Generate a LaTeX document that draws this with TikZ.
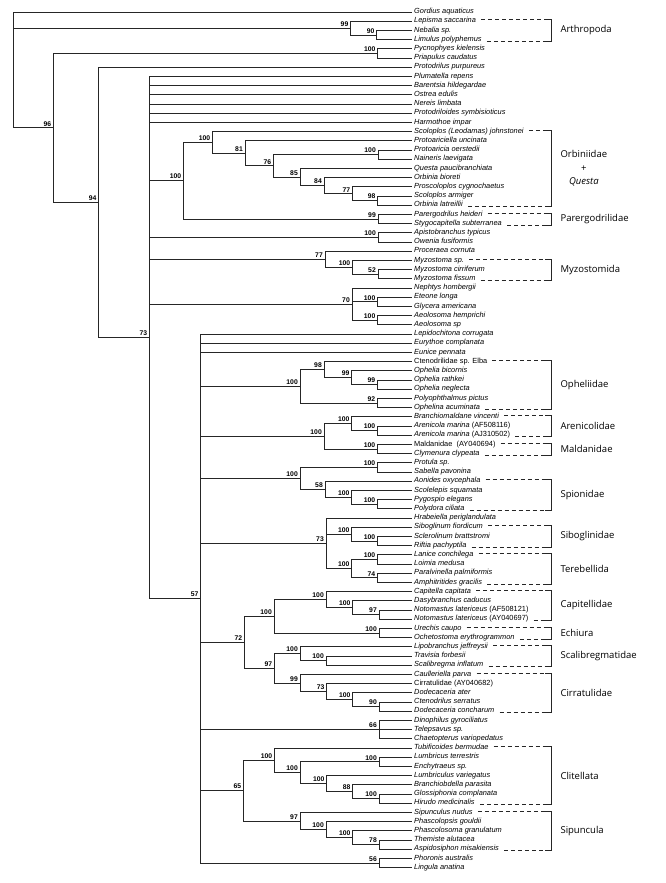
\documentclass[tikz,border=0pt]{standalone}
\usepackage{fontspec}
\setmainfont{Liberation Sans}
\newfontfamily\cladefont{Open Sans}
\begin{document}
\begin{tikzpicture}[x=1pt, y=-9.2pt,
    leaf/.style={anchor=west, inner sep=2pt, text height=5pt, text depth=1.5pt,
      font=\fontsize{7.4}{8}\selectfont\itshape},
    boot/.style={anchor=south east, inner xsep=2pt, inner ysep=1.5pt,
      font=\fontsize{6.8}{7}\selectfont\bfseries},
    branch/.style={line width=0.75pt, black!85},
    dashline/.style={line width=0.75pt, black!85, dash pattern=on 4pt off 3pt},
    brtop/.style={yshift=1.5pt},
    brbot/.style={yshift=-1.5pt},
    clade/.style={anchor=west, align=center, font=\cladefont\fontsize{9.5}{13.5}\selectfont}]
  \useasboundingbox (0,-0.3043) rectangle (665,95.674);
  % taxa
  \path
    (412,1) node[leaf] (gor) {Gordius aquaticus}
    (412,2) node[leaf] (lep) {Lepisma saccarina}
    (412,3) node[leaf] (neb) {Nebalia sp.}
    (412,4) node[leaf] (lim) {Limulus polyphemus}
    (412,5) node[leaf] (pyc) {Pycnophyes kielensis}
    (412,6) node[leaf] (pri) {Priapulus caudatus}
    (412,7) node[leaf] (prp) {Protodrilus purpureus}
    (412,8) node[leaf] (plu) {Plumatella repens}
    (412,9) node[leaf] (bar) {Barentsia hildegardae}
    (412,10) node[leaf] (ost) {Ostrea edulis}
    (412,11) node[leaf] (ner) {Nereis limbata}
    (412,12) node[leaf] (pds) {Protodriloides symbisioticus}
    (412,13) node[leaf] (har) {Harmothoe impar}
    (412,14) node[leaf] (slj) {Scoloplos (Leodamas) johnstonei}
    (412,15) node[leaf] (pau) {Protoariciella uncinata}
    (412,16) node[leaf] (pao) {Protoaricia oerstedii}
    (412,17) node[leaf] (nai) {Naineris laevigata}
    (412,18) node[leaf] (que) {Questa paucibranchiata}
    (412,19) node[leaf] (obi) {Orbinia bioreti}
    (412,20) node[leaf] (pcy) {Proscoloplos cygnochaetus}
    (412,21) node[leaf] (sar) {Scoloplos armiger}
    (412,22) node[leaf] (ola) {Orbinia latreillii}
    (412,23) node[leaf] (phe) {Parergodrilus heideri}
    (412,24) node[leaf] (sty) {Stygocapitella subterranea}
    (412,25) node[leaf] (apt) {Apistobranchus typicus}
    (412,26) node[leaf] (owf) {Owenia fusiformis}
    (412,27) node[leaf] (pco) {Proceraea cornuta}
    (412,28) node[leaf] (mys) {Myzostoma sp.}
    (412,29) node[leaf] (myc) {Myzostoma cirriferum}
    (412,30) node[leaf] (myf) {Myzostoma fissum}
    (412,31) node[leaf] (nep) {Nephtys hombergii}
    (412,32) node[leaf] (ete) {Eteone longa}
    (412,33) node[leaf] (gly) {Glycera americana}
    (412,34) node[leaf] (aeh) {Aeolosoma hemprichi}
    (412,35) node[leaf] (aes) {Aeolosoma sp}
    (412,36) node[leaf] (lec) {Lepidochitona corrugata}
    (412,37) node[leaf] (euc) {Eurythoe complanata}
    (412,38) node[leaf] (eup) {Eunice pennata}
    (412,39) node[leaf] (cte) {\textup{Ctenodrilidae sp. Elba}}
    (412,40) node[leaf] (obc) {Ophelia bicornis}
    (412,41) node[leaf] (ora) {Ophelia rathkei}
    (412,42) node[leaf] (one) {Ophelia neglecta}
    (412,43) node[leaf] (pol) {Polyophthalmus pictus}
    (412,44) node[leaf] (oac) {Ophelina acuminata}
    (412,45) node[leaf] (brv) {Branchiomaldane vincenti}
    (412,46) node[leaf] (ama) {Arenicola marina \textup{(AF508116)}}
    (412,47) node[leaf] (amb) {Arenicola marina \textup{(AJ310502)}}
    (412,48) node[leaf] (mal) {\textup{Maldanidae\ \ (AY040694)}}
    (412,49) node[leaf] (cly) {Clymenura clypeata}
    (412,50) node[leaf] (prt) {Protula sp.}
    (412,51) node[leaf] (sab) {Sabella pavonina}
    (412,52) node[leaf] (aon) {Aonides oxycephala}
    (412,53) node[leaf] (scs) {Scolelepis squamata}
    (412,54) node[leaf] (pyg) {Pygospio elegans}
    (412,55) node[leaf] (pci) {Polydora ciliata}
    (412,56) node[leaf] (hra) {Hrabeiella periglandulata}
    (412,57) node[leaf] (sfi) {Siboglinum fiordicum}
    (412,58) node[leaf] (sbr) {Sclerolinum brattstromi}
    (412,59) node[leaf] (rif) {Riftia pachyptila}
    (412,60) node[leaf] (lan) {Lanice conchilega}
    (412,61) node[leaf] (loi) {Loimia medusa}
    (412,62) node[leaf] (pal) {Paralvinella palmiformis}
    (412,63) node[leaf] (amg) {Amphitritides gracilis}
    (412,64) node[leaf] (cap) {Capitella capitata}
    (412,65) node[leaf] (das) {Dasybranchus caducus}
    (412,66) node[leaf] (nla) {Notomastus latericeus \textup{(AF508121)}}
    (412,67) node[leaf] (nlb) {Notomastus latericeus \textup{(AY040697)}}
    (412,68) node[leaf] (ure) {Urechis caupo}
    (412,69) node[leaf] (och) {Ochetostoma erythrogrammon}
    (412,70) node[leaf] (lip) {Lipobranchus jeffreysii}
    (412,71) node[leaf] (tra) {Travisia forbesii}
    (412,72) node[leaf] (sci) {Scalibregma inflatum}
    (412,73) node[leaf] (cau) {Caulleriella parva}
    (412,74) node[leaf] (cir) {\textup{Cirratulidae (AY040682)}}
    (412,75) node[leaf] (dat) {Dodecaceria ater}
    (412,76) node[leaf] (cts) {Ctenodrilus serratus}
    (412,77) node[leaf] (dco) {Dodecaceria concharum}
    (412,78) node[leaf] (din) {Dinophilus gyrociliatus}
    (412,79) node[leaf] (tel) {Telepsavus sp.}
    (412,80) node[leaf] (cha) {Chaetopterus variopedatus}
    (412,81) node[leaf] (tub) {Tubificoides bermudae}
    (412,82) node[leaf] (lut) {Lumbricus terrestris}
    (412,83) node[leaf] (enc) {Enchytraeus sp.}
    (412,84) node[leaf] (luv) {Lumbriculus variegatus}
    (412,85) node[leaf] (brp) {Branchiobdella parasita}
    (412,86) node[leaf] (glo) {Glossiphonia complanata}
    (412,87) node[leaf] (hir) {Hirudo medicinalis}
    (412,88) node[leaf] (sip) {Sipunculus nudus}
    (412,89) node[leaf] (phg) {Phascolopsis gouldii}
    (412,90) node[leaf] (phs) {Phascolosoma granulatum}
    (412,91) node[leaf] (the) {Themiste alutacea}
    (412,92) node[leaf] (asp) {Aspidosiphon misakiensis}
    (412,93) node[leaf] (pho) {Phoronis australis}
    (412,94) node[leaf] (lin) {Lingula anatina};
  % inner nodes with support values
  \path
    (13.3,7.296875) coordinate (root)
    (350.5,2.75) coordinate (arth) node[boot] (arth-b) {99}
    (376.7,3.5) coordinate (arthb) node[boot] (arthb-b) {90}
    (53.3,13.59375) coordinate (bila) node[boot] (bila-b) {96}
    (377.7,5.5) coordinate (pria) node[boot] (pria-b) {100}
    (98.7,21.6875) coordinate (anne) node[boot] (anne-b) {94}
    (149.3,36.375) coordinate (core) node[boot] (core-b) {73}
    (183.3,19.33984375) coordinate (orpa) node[boot] (orpa-b) {100}
    (212.3,15.1796875) coordinate (orbi) node[boot] (orbi-b) {100}
    (245,16.359375) coordinate (orb81) node[boot] (orb81-b) {81}
    (273.3,17.71875) coordinate (orb76) node[boot] (orb76-b) {76}
    (378,16.5) coordinate (orbpn) node[boot] (orbpn-b) {100}
    (300,18.9375) coordinate (orb85) node[boot] (orb85-b) {85}
    (324,19.875) coordinate (orb84) node[boot] (orb84-b) {84}
    (352.3,20.75) coordinate (orb77) node[boot] (orb77-b) {77}
    (377.7,21.5) coordinate (orb98) node[boot] (orb98-b) {98}
    (378,23.5) coordinate (parg) node[boot] (parg-b) {99}
    (378,25.5) coordinate (apow) node[boot] (apow-b) {100}
    (325,27.875) coordinate (myzo) node[boot] (myzo-b) {77}
    (352.3,28.75) coordinate (myz100) node[boot] (myz100-b) {100}
    (378,29.5) coordinate (myz52) node[boot] (myz52-b) {52}
    (352,32.75) coordinate (glyc) node[boot] (glyc-b) {70}
    (377.5,32.5) coordinate (glyb) node[boot] (glyb-b) {100}
    (377.5,34.5) coordinate (aeol) node[boot] (aeol-b) {100}
    (200.7,64.75) coordinate (crwn) node[boot] (crwn-b) {57}
    (300,41.6875) coordinate (ophe) node[boot] (ophe-b) {100}
    (324,39.875) coordinate (oph98) node[boot] (oph98-b) {98}
    (351.7,40.75) coordinate (oph99) node[boot] (oph99-b) {99}
    (377.3,41.5) coordinate (oph99b) node[boot] (oph99b-b) {99}
    (377.3,43.5) coordinate (oph92) node[boot] (oph92-b) {92}
    (324,47.125) coordinate (aren) node[boot] (aren-b) {100}
    (351.7,45.75) coordinate (are100) node[boot] (are100-b) {100}
    (377.3,46.5) coordinate (are100b) node[boot] (are100b-b) {100}
    (377.3,48.5) coordinate (mald) node[boot] (mald-b) {100}
    (300,51.6875) coordinate (sabs) node[boot] (sabs-b) {100}
    (377.3,50.5) coordinate (sabl) node[boot] (sabl-b) {100}
    (325,52.875) coordinate (spi58) node[boot] (spi58-b) {58}
    (351.7,53.75) coordinate (spi100) node[boot] (spi100-b) {100}
    (377.3,54.5) coordinate (spi100b) node[boot] (spi100b-b) {100}
    (326,58.75) coordinate (sibt) node[boot] (sibt-b) {73}
    (351.7,57.75) coordinate (sibo) node[boot] (sibo-b) {100}
    (377.3,58.5) coordinate (sibob) node[boot] (sibob-b) {100}
    (351.7,61.5) coordinate (tere) node[boot] (tere-b) {100}
    (377.3,60.5) coordinate (tera) node[boot] (tera-b) {100}
    (377.3,62.5) coordinate (tere74) node[boot] (tere74-b) {74}
    (244.3,69.515625) coordinate (capt) node[boot] (capt-b) {72}
    (274,66.6875) coordinate (capi) node[boot] (capi-b) {100}
    (326,64.875) coordinate (cap100) node[boot] (cap100-b) {100}
    (352.7,65.75) coordinate (cap100b) node[boot] (cap100b-b) {100}
    (379,66.5) coordinate (cap97) node[boot] (cap97-b) {97}
    (379,68.5) coordinate (echi) node[boot] (echi-b) {100}
    (274.3,72.34375) coordinate (scci) node[boot] (scci-b) {97}
    (300,70.75) coordinate (scal) node[boot] (scal-b) {100}
    (326,71.5) coordinate (scalb) node[boot] (scalb-b) {100}
    (300,73.9375) coordinate (cirr) node[boot] (cirr-b) {99}
    (326.7,74.875) coordinate (cir73) node[boot] (cir73-b) {73}
    (352.7,75.75) coordinate (cir100) node[boot] (cir100-b) {100}
    (379,76.5) coordinate (cir90) node[boot] (cir90-b) {90}
    (379,79) coordinate (chae) node[boot] (chae-b) {66}
    (243.3,85.640625) coordinate (clsi) node[boot] (clsi-b) {65}
    (274.3,82.34375) coordinate (clit) node[boot] (clit-b) {100}
    (300,83.6875) coordinate (cli100) node[boot] (cli100-b) {100}
    (379,82.5) coordinate (lumb) node[boot] (lumb-b) {100}
    (326.7,84.875) coordinate (cli100b) node[boot] (cli100b-b) {100}
    (352.7,85.75) coordinate (cli88) node[boot] (cli88-b) {88}
    (379,86.5) coordinate (hiru) node[boot] (hiru-b) {100}
    (300,88.9375) coordinate (sipu) node[boot] (sipu-b) {97}
    (326,89.875) coordinate (sip100) node[boot] (sip100-b) {100}
    (352.7,90.75) coordinate (sip100b) node[boot] (sip100b-b) {100}
    (379,91.5) coordinate (sip78) node[boot] (sip78-b) {78}
    (379,93.5) coordinate (phor) node[boot] (phor-b) {56};
  % branches
  \begin{scope}[branch]
    \draw (root) |- (gor.west) (root) |- (arth) (root) |- (bila);
    \draw (arth) |- (lep.west) (arth) |- (arthb);
    \draw (arthb) |- (neb.west) (arthb) |- (lim.west);
    \draw (bila) |- (pria) (bila) |- (anne);
    \draw (pria) |- (pyc.west) (pria) |- (pri.west);
    \draw (anne) |- (prp.west) (anne) |- (core);
    \draw (core) |- (plu.west) (core) |- (bar.west) (core) |- (ost.west)
      (core) |- (ner.west) (core) |- (pds.west) (core) |- (har.west);
    \draw (core) |- (orpa) (core) |- (apow) (core) |- (myzo) (core) |- (glyc)
      (core) |- (crwn);
    \draw (orpa) |- (orbi) (orpa) |- (parg);
    \draw (orbi) |- (slj.west) (orbi) |- (orb81);
    \draw (orb81) |- (pau.west) (orb81) |- (orb76);
    \draw (orb76) |- (orbpn) (orb76) |- (orb85);
    \draw (orbpn) |- (pao.west) (orbpn) |- (nai.west);
    \draw (orb85) |- (que.west) (orb85) |- (orb84);
    \draw (orb84) |- (obi.west) (orb84) |- (orb77);
    \draw (orb77) |- (pcy.west) (orb77) |- (orb98);
    \draw (orb98) |- (sar.west) (orb98) |- (ola.west);
    \draw (parg) |- (phe.west) (parg) |- (sty.west);
    \draw (apow) |- (apt.west) (apow) |- (owf.west);
    \draw (myzo) |- (pco.west) (myzo) |- (myz100);
    \draw (myz100) |- (mys.west) (myz100) |- (myz52);
    \draw (myz52) |- (myc.west) (myz52) |- (myf.west);
    \draw (glyc) |- (nep.west) (glyc) |- (glyb) (glyc) |- (aeol);
    \draw (glyb) |- (ete.west) (glyb) |- (gly.west);
    \draw (aeol) |- (aeh.west) (aeol) |- (aes.west);
    \draw (crwn) |- (lec.west) (crwn) |- (euc.west) (crwn) |- (eup.west);
    \draw (crwn) |- (ophe) (crwn) |- (aren) (crwn) |- (sabs) (crwn) |- (sibt)
      (crwn) |- (capt) (crwn) |- (chae) (crwn) |- (clsi) (crwn) |- (phor);
    \draw (ophe) |- (oph98) (ophe) |- (oph92);
    \draw (oph98) |- (cte.west) (oph98) |- (oph99);
    \draw (oph99) |- (obc.west) (oph99) |- (oph99b);
    \draw (oph99b) |- (ora.west) (oph99b) |- (one.west);
    \draw (oph92) |- (pol.west) (oph92) |- (oac.west);
    \draw (aren) |- (are100) (aren) |- (mald);
    \draw (are100) |- (brv.west) (are100) |- (are100b);
    \draw (are100b) |- (ama.west) (are100b) |- (amb.west);
    \draw (mald) |- (mal.west) (mald) |- (cly.west);
    \draw (sabs) |- (sabl) (sabs) |- (spi58);
    \draw (sabl) |- (prt.west) (sabl) |- (sab.west);
    \draw (spi58) |- (aon.west) (spi58) |- (spi100);
    \draw (spi100) |- (scs.west) (spi100) |- (spi100b);
    \draw (spi100b) |- (pyg.west) (spi100b) |- (pci.west);
    \draw (sibt) |- (hra.west) (sibt) |- (sibo) (sibt) |- (tere);
    \draw (sibo) |- (sfi.west) (sibo) |- (sibob);
    \draw (sibob) |- (sbr.west) (sibob) |- (rif.west);
    \draw (tere) |- (tera) (tere) |- (tere74);
    \draw (tera) |- (lan.west) (tera) |- (loi.west);
    \draw (tere74) |- (pal.west) (tere74) |- (amg.west);
    \draw (capt) |- (capi) (capt) |- (scci);
    \draw (capi) |- (cap100) (capi) |- (echi);
    \draw (cap100) |- (cap.west) (cap100) |- (cap100b);
    \draw (cap100b) |- (das.west) (cap100b) |- (cap97);
    \draw (cap97) |- (nla.west) (cap97) |- (nlb.west);
    \draw (echi) |- (ure.west) (echi) |- (och.west);
    \draw (scci) |- (scal) (scci) |- (cirr);
    \draw (scal) |- (lip.west) (scal) |- (scalb);
    \draw (scalb) |- (tra.west) (scalb) |- (sci.west);
    \draw (cirr) |- (cau.west) (cirr) |- (cir73);
    \draw (cir73) |- (cir.west) (cir73) |- (cir100);
    \draw (cir100) |- (dat.west) (cir100) |- (cir90);
    \draw (cir90) |- (cts.west) (cir90) |- (dco.west);
    \draw (chae) |- (din.west) (chae) |- (tel.west) (chae) |- (cha.west);
    \draw (clsi) |- (clit) (clsi) |- (sipu);
    \draw (clit) |- (tub.west) (clit) |- (cli100);
    \draw (cli100) |- (lumb) (cli100) |- (cli100b);
    \draw (lumb) |- (lut.west) (lumb) |- (enc.west);
    \draw (cli100b) |- (luv.west) (cli100b) |- (cli88);
    \draw (cli88) |- (brp.west) (cli88) |- (hiru);
    \draw (hiru) |- (glo.west) (hiru) |- (hir.west);
    \draw (sipu) |- (sip.west) (sipu) |- (sip100);
    \draw (sip100) |- (phg.west) (sip100) |- (sip100b);
    \draw (sip100b) |- (phs.west) (sip100b) |- (sip78);
    \draw (sip78) |- (the.west) (sip78) |- (asp.west);
    \draw (phor) |- (pho.west) (phor) |- (lin.west);
  \end{scope}
  % clade brackets
  \coordinate (brs) at (545,0);
  \coordinate (brx) at (551,0);
  \draw[dashline] ([brtop,xshift=3pt]lep.east) -- ([brtop]lep.east -| brs);
  \draw[dashline] ([brbot,xshift=3pt]lim.east) -- ([brbot]lim.east -| brs);
  \draw[branch] ([brtop]lep.east -| brs) -- ([brtop]lep.east -| brx) -- ([brbot]lim.east -| brx) -- ([brbot]lim.east -| brs);
  \draw[dashline] ([brtop,xshift=3pt]slj.east) -- ([brtop]slj.east -| brs);
  \draw[dashline] ([brbot,xshift=3pt]ola.east) -- ([brbot]ola.east -| brs);
  \draw[branch] ([brtop]slj.east -| brs) -- ([brtop]slj.east -| brx) -- ([brbot]ola.east -| brx) -- ([brbot]ola.east -| brs);
  \draw[dashline] ([brtop,xshift=3pt]phe.east) -- ([brtop]phe.east -| brs);
  \draw[dashline] ([brbot,xshift=3pt]sty.east) -- ([brbot]sty.east -| brs);
  \draw[branch] ([brtop]phe.east -| brs) -- ([brtop]phe.east -| brx) -- ([brbot]sty.east -| brx) -- ([brbot]sty.east -| brs);
  \draw[dashline] ([brtop,xshift=3pt]mys.east) -- ([brtop]mys.east -| brs);
  \draw[dashline] ([brbot,xshift=3pt]myf.east) -- ([brbot]myf.east -| brs);
  \draw[branch] ([brtop]mys.east -| brs) -- ([brtop]mys.east -| brx) -- ([brbot]myf.east -| brx) -- ([brbot]myf.east -| brs);
  \draw[dashline] ([brtop,xshift=3pt]cte.east) -- ([brtop]cte.east -| brs);
  \draw[dashline] ([brbot,xshift=3pt]oac.east) -- ([brbot]oac.east -| brs);
  \draw[branch] ([brtop]cte.east -| brs) -- ([brtop]cte.east -| brx) -- ([brbot]oac.east -| brx) -- ([brbot]oac.east -| brs);
  \draw[dashline] ([brtop,xshift=3pt]brv.east) -- ([brtop]brv.east -| brs);
  \draw[dashline] ([brbot,xshift=3pt]amb.east) -- ([brbot]amb.east -| brs);
  \draw[branch] ([brtop]brv.east -| brs) -- ([brtop]brv.east -| brx) -- ([brbot]amb.east -| brx) -- ([brbot]amb.east -| brs);
  \draw[dashline] ([brtop,xshift=3pt]mal.east) -- ([brtop]mal.east -| brs);
  \draw[dashline] ([brbot,xshift=3pt]cly.east) -- ([brbot]cly.east -| brs);
  \draw[branch] ([brtop]mal.east -| brs) -- ([brtop]mal.east -| brx) -- ([brbot]cly.east -| brx) -- ([brbot]cly.east -| brs);
  \draw[dashline] ([brtop,xshift=3pt]aon.east) -- ([brtop]aon.east -| brs);
  \draw[dashline] ([brbot,xshift=3pt]pci.east) -- ([brbot]pci.east -| brs);
  \draw[branch] ([brtop]aon.east -| brs) -- ([brtop]aon.east -| brx) -- ([brbot]pci.east -| brx) -- ([brbot]pci.east -| brs);
  \draw[dashline] ([brtop,xshift=3pt]sfi.east) -- ([brtop]sfi.east -| brs);
  \draw[dashline] ([brbot,xshift=3pt]rif.east) -- ([brbot]rif.east -| brs);
  \draw[branch] ([brtop]sfi.east -| brs) -- ([brtop]sfi.east -| brx) -- ([brbot]rif.east -| brx) -- ([brbot]rif.east -| brs);
  \draw[dashline] ([brtop,xshift=3pt]lan.east) -- ([brtop]lan.east -| brs);
  \draw[dashline] ([brbot,xshift=3pt]amg.east) -- ([brbot]amg.east -| brs);
  \draw[branch] ([brtop]lan.east -| brs) -- ([brtop]lan.east -| brx) -- ([brbot]amg.east -| brx) -- ([brbot]amg.east -| brs);
  \draw[dashline] ([brtop,xshift=3pt]cap.east) -- ([brtop]cap.east -| brs);
  \draw[dashline] ([brbot,xshift=3pt]nlb.east) -- ([brbot]nlb.east -| brs);
  \draw[branch] ([brtop]cap.east -| brs) -- ([brtop]cap.east -| brx) -- ([brbot]nlb.east -| brx) -- ([brbot]nlb.east -| brs);
  \draw[dashline] ([brtop,xshift=3pt]ure.east) -- ([brtop]ure.east -| brs);
  \draw[dashline] ([brbot,xshift=3pt]och.east) -- ([brbot]och.east -| brs);
  \draw[branch] ([brtop]ure.east -| brs) -- ([brtop]ure.east -| brx) -- ([brbot]och.east -| brx) -- ([brbot]och.east -| brs);
  \draw[dashline] ([brtop,xshift=3pt]lip.east) -- ([brtop]lip.east -| brs);
  \draw[dashline] ([brbot,xshift=3pt]sci.east) -- ([brbot]sci.east -| brs);
  \draw[branch] ([brtop]lip.east -| brs) -- ([brtop]lip.east -| brx) -- ([brbot]sci.east -| brx) -- ([brbot]sci.east -| brs);
  \draw[dashline] ([brtop,xshift=3pt]cau.east) -- ([brtop]cau.east -| brs);
  \draw[dashline] ([brbot,xshift=3pt]dco.east) -- ([brbot]dco.east -| brs);
  \draw[branch] ([brtop]cau.east -| brs) -- ([brtop]cau.east -| brx) -- ([brbot]dco.east -| brx) -- ([brbot]dco.east -| brs);
  \draw[dashline] ([brtop,xshift=3pt]tub.east) -- ([brtop]tub.east -| brs);
  \draw[dashline] ([brbot,xshift=3pt]hir.east) -- ([brbot]hir.east -| brs);
  \draw[branch] ([brtop]tub.east -| brs) -- ([brtop]tub.east -| brx) -- ([brbot]hir.east -| brx) -- ([brbot]hir.east -| brs);
  \draw[dashline] ([brtop,xshift=3pt]sip.east) -- ([brtop]sip.east -| brs);
  \draw[dashline] ([brbot,xshift=3pt]asp.east) -- ([brbot]asp.east -| brs);
  \draw[branch] ([brtop]sip.east -| brs) -- ([brtop]sip.east -| brx) -- ([brbot]asp.east -| brx) -- ([brbot]asp.east -| brs);
  % clade names
  \node[clade] (arthropoda) at (557,3) {Arthropoda};
  \node[clade] (orbiniidae) at (557,18) {Orbiniidae\\+\\\textit{Questa}};
  \node[clade] (parergodrilidae) at (557,23.5) {Parergodrilidae};
  \node[clade] (myzostomida) at (557,29) {Myzostomida};
  \node[clade] (opheliidae) at (557,41.5) {Opheliidae};
  \node[clade] (arenicolidae) at (557,46) {Arenicolidae};
  \node[clade] (maldanidae) at (557,48.5) {Maldanidae};
  \node[clade] (spionidae) at (557,53.5) {Spionidae};
  \node[clade] (siboglinidae) at (557,58) {Siboglinidae};
  \node[clade] (terebellida) at (557,61.5) {Terebellida};
  \node[clade] (capitellidae) at (557,65.5) {Capitellidae};
  \node[clade] (echiura) at (557,68.5) {Echiura};
  \node[clade] (scalibregmatidae) at (557,71) {Scalibregmatidae};
  \node[clade] (cirratulidae) at (557,75) {Cirratulidae};
  \node[clade] (clitellata) at (557,84) {Clitellata};
  \node[clade] (sipuncula) at (557,90) {Sipuncula};
\end{tikzpicture}
\end{document}
